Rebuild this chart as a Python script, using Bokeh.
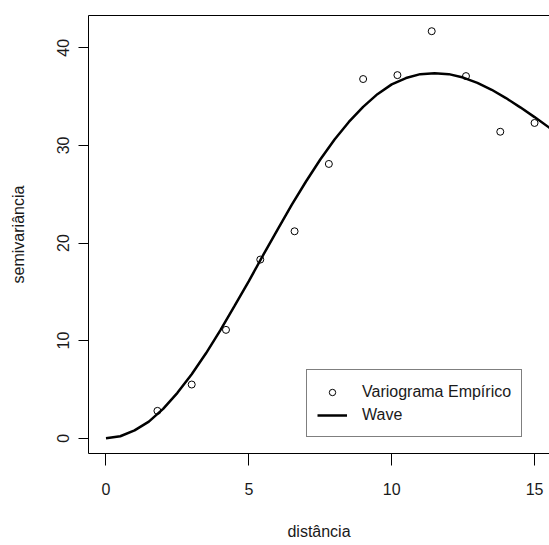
from bokeh.plotting import figure
from bokeh.models import Range1d, FixedTicker, LinearAxis, Legend, LegendItem
from bokeh.embed import file_html
from bokeh.resources import INLINE

lag = [1.8, 3.0, 4.2, 5.4, 6.6, 7.8, 9.0, 10.2, 11.4, 12.6, 13.8, 15.0]
gamma = [2.8, 5.5, 11.1, 18.3, 21.2, 28.1, 36.8, 37.2, 41.7, 37.1, 31.4, 32.3]

# Fitted "Wave" model curve
curve_h = [0.0, 0.5, 1.0, 1.5, 2.0, 2.5, 3.0, 3.5, 4.0, 4.5, 5.0, 5.5, 6.0, 6.5,
           7.0, 7.5, 8.0, 8.5, 9.0, 9.5, 10.0, 10.5, 11.0, 11.5, 12.0, 12.5,
           13.0, 13.5, 14.0, 14.5, 15.0, 15.5, 16.0]
curve_g = [0.0, 0.2, 0.8, 1.7, 3.0, 4.65, 6.55, 8.7, 11.05, 13.55, 16.1, 18.75,
           21.35, 23.9, 26.3, 28.55, 30.6, 32.4, 33.95, 35.25, 36.25, 36.9,
           37.3, 37.4, 37.3, 36.95, 36.4, 35.7, 34.85, 33.9, 32.9, 31.85, 30.8]

x_ticks = [0, 5, 10, 15]
y_ticks = [0, 10, 20, 30, 40]

FONT = "Liberation Sans"
TXT = "#1a1a1a"

p = figure(width=549, height=545, output_backend="svg", toolbar_location=None,
           x_range=Range1d(-0.6125, 15.523), y_range=Range1d(-1.568, 43.31),
           min_border_left=88, min_border_right=0, min_border_top=15,
           min_border_bottom=92)
p.outline_line_color = None
p.grid.visible = False
p.background_fill_color = "white"
p.border_fill_color = "white"

for ax, ticks in ((p.xaxis[0], x_ticks), (p.yaxis[0], y_ticks)):
    ax.ticker = FixedTicker(ticks=ticks)
    ax.minor_tick_line_color = None
    ax.major_tick_in = 0
    ax.major_tick_line_color = "black"
    ax.axis_line_color = "black"
    ax.axis_line_width = 1
    ax.major_label_text_font = FONT
    ax.major_label_text_font_size = "16px"
    ax.major_label_text_color = TXT
    ax.axis_label_text_font = FONT
    ax.axis_label_text_font_size = "16px"
    ax.axis_label_text_font_style = "normal"
    ax.axis_label_text_color = TXT

p.xaxis.axis_label = "distância"
p.xaxis.major_tick_out = 12
p.xaxis.major_label_standoff = 17
p.xaxis.axis_label_standoff = 25

p.yaxis.axis_label = "semivariância"
p.yaxis.major_tick_out = 10
p.yaxis.major_label_orientation = "vertical"
p.yaxis.major_label_standoff = 9
p.yaxis.axis_label_standoff = 28

top = LinearAxis(ticker=FixedTicker(ticks=[]), major_tick_out=0, major_tick_in=0,
                 minor_tick_out=0, minor_tick_in=0, axis_line_color="black",
                 major_label_text_font_size="0px")
p.add_layout(top, "above")

pts = p.scatter(lag, gamma, size=7, marker="circle", fill_color=None,
                line_color="black", line_width=1)
ln = p.line(curve_h, curve_g, line_color="black", line_width=2.5)

legend = Legend(items=[LegendItem(label="Variograma Empírico", renderers=[pts]),
                       LegendItem(label="Wave", renderers=[ln])],
                location=(218, 16), padding=10, spacing=0, label_height=23,
                glyph_height=16, glyph_width=30, label_standoff=15,
                label_text_font=FONT, label_text_font_size="16px",
                label_text_color=TXT, border_line_color="black",
                border_line_width=1, background_fill_alpha=1.0, margin=0)
p.add_layout(legend, "center")

open("out.html", "w").write(file_html(p, INLINE))
